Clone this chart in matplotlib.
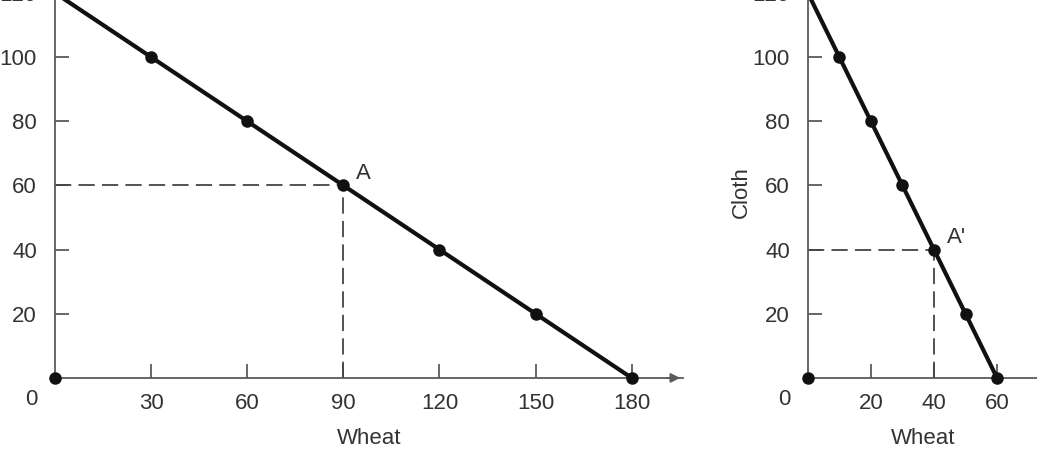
import matplotlib.pyplot as plt

plt.rcParams['font.family'] = ['Liberation Sans', 'DejaVu Sans']

# Production possibilities: left country
wheat_1 = [0, 30, 60, 90, 120, 150, 180]
cloth_1 = [120, 100, 80, 60, 40, 20, 0]
point_a = (90, 60)

# Right country
wheat_2 = [0, 10, 20, 30, 40, 50, 60]
cloth_2 = [120, 100, 80, 60, 40, 20, 0]
point_a2 = (40, 40)

xticks_1 = [30, 60, 90, 120, 150, 180]
xticks_2 = [20, 40, 60]
yticks = [20, 40, 60, 80, 100, 120]

spine_col = "#5a5a5a"
text_col = "#333333"
dash_col = "#444444"
fs = 16

fig = plt.figure(figsize=(10.37, 4.66), dpi=100)

# Define axes positions (in figure fractions)
ax1 = fig.add_axes([0.053, 0.189, 0.6056, 0.840])
ax2 = fig.add_axes([0.779, 0.189, 0.222, 0.840])


def style_axes(ax, xticks, xmax, label_a, a_xy, a_text_xy, arrow=False):
    ax.set_xlim(0, xmax)
    ax.set_ylim(0, 122)
    for s in ["top", "right"]:
        ax.spines[s].set_visible(False)
    for s in ["left", "bottom"]:
        ax.spines[s].set_color(spine_col)
        ax.spines[s].set_linewidth(1.3)
    ax.set_xticks(xticks)
    ax.set_yticks(yticks)
    ax.tick_params(direction="in", length=10, width=1.3, color=spine_col,
                   labelsize=fs, labelcolor=text_col)
    ax.tick_params(axis="y", pad=13)
    ax.tick_params(axis="x", pad=11)
    ax.set_xlabel("Wheat", fontsize=fs, color=text_col, labelpad=10)
    # dashed guides to point
    ax.plot([0, a_xy[0]], [a_xy[1], a_xy[1]], ls=(0, (9, 4)), color=dash_col, lw=1.3)
    ax.plot([a_xy[0], a_xy[0]], [0, a_xy[1]], ls=(0, (9, 4)), color=dash_col, lw=1.3)
    ax.text(a_text_xy[0], a_text_xy[1], label_a, fontsize=fs, color=text_col)
    if arrow:
        ax.annotate("", xy=(1.0, 0), xycoords=("axes fraction", "data"),
                    xytext=(0.97, 0), textcoords=("axes fraction", "data"),
                    arrowprops=dict(arrowstyle="-|>", color=spine_col, lw=1.3,
                                    mutation_scale=14),
                    annotation_clip=False)


style_axes(ax1, xticks_1, 196, "A", point_a, (94, 62), arrow=True)
style_axes(ax2, xticks_2, 73, "A'", point_a2, (44, 42))

ax1.plot(wheat_1, cloth_1, color="#111111", lw=3, marker="o", ms=8,
         clip_on=False, zorder=5)
ax1.plot([0], [0], "o", color="#111111", ms=8, clip_on=False, zorder=5)
ax2.plot(wheat_2, cloth_2, color="#111111", lw=3, marker="o", ms=8,
         clip_on=False, zorder=5)
ax2.plot([0], [0], "o", color="#111111", ms=8, clip_on=False, zorder=5)

# "0" labels at origins
ax1.text(-5.5, -3.5, "0", ha="right", va="top", fontsize=fs, color=text_col)
ax2.text(-5.5, -3.5, "0", ha="right", va="top", fontsize=fs, color=text_col)

ax2.text(-21, 58, "Cloth", rotation=90, ha="center", va="center",
         fontsize=fs, color=text_col)

fig.savefig("out.png", dpi=100)
